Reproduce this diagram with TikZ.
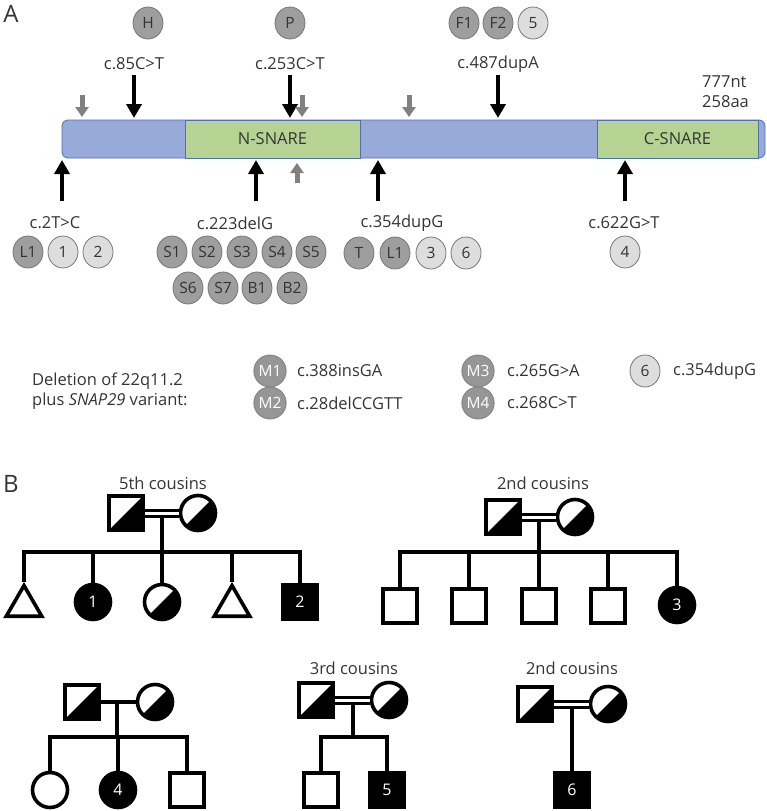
\documentclass[tikz,border=0pt]{standalone}
\usepackage{fontspec}
\setmainfont{Open Sans}
\usetikzlibrary{arrows.meta}
\usetikzlibrary{shapes.geometric}
\usetikzlibrary{positioning}
\definecolor{pblue}{RGB}{151,170,216}
\definecolor{pgreen}{RGB}{183,211,148}
\definecolor{pedge}{RGB}{80,112,182}
\definecolor{dgray}{RGB}{158,158,158}
\definecolor{lgray}{RGB}{221,221,221}
\definecolor{cedge}{RGB}{118,118,118}
\definecolor{agray}{RGB}{128,128,128}
\definecolor{txt}{RGB}{52,52,52}
\tikzset{lbl/.style = {font=\fontsize{16.5}{20}\selectfont, text=txt, inner sep=0pt},
         pat/.style = {ellipse, minimum width=30pt, minimum height=32pt, inner sep=0pt,
                       fill=dgray, draw=cedge, line width=0.8pt,
                       font=\fontsize{15.5}{16}\selectfont, text=txt},
         rel/.style = {pat, fill=lgray},
         mpat/.style = {pat, fill=dgray!95!black, draw=dgray!80!black, text=white},
         dom/.style = {rectangle, draw=pedge, line width=0.8pt, minimum height=38pt,
                       inner sep=0pt, font=\fontsize{16.5}{20}\selectfont, text=txt},
         blk/.style = {line width=4pt, -{Triangle[length=14pt,width=15pt]}},
         gry/.style = {line width=5pt, draw=agray, -{Triangle[length=10pt,width=13pt]}},
         pl/.style = {line width=3.8pt},
         cons/.style = {double, double distance=3pt, line width=3pt},
         sq/.style = {draw, rectangle, minimum size=34pt, line width=3.6pt, inner sep=0pt,
                      fill=white, font=\fontsize{16}{16}\selectfont, text=white},
         ci/.style = {sq, circle, minimum size=35pt},
         tri/.style = {draw, regular polygon, regular polygon sides=3, minimum size=41pt,
                       line width=3.6pt, inner sep=0pt, fill=white},
         half/.style = {path picture={\fill[black] (path picture bounding box.south west)
                        -- (path picture bounding box.north east)
                        -- (path picture bounding box.south east) -- cycle;}},
         aff/.style = {fill=black},
         kin/.style = {lbl}}

\begin{document}
\begin{tikzpicture}[x=1pt, y=-1pt]
  \useasboundingbox (0,0) rectangle (766,811);

  \node[lbl, font=\fontsize{24}{24}\selectfont] (pa) at (11,14) {A};
  \node[lbl, font=\fontsize{24}{24}\selectfont] (pb) at (11,484) {B};

  \draw[draw=pedge, fill=pblue, line width=0.8pt, rounded corners=6pt] (62,120) rectangle (765,158);
  \node[dom, fill=pgreen, minimum width=175pt] (nsnare) at (272.5,139) {N-SNARE};
  \node[dom, fill=pgreen, minimum width=161pt] (csnare) at (677.5,139) {C-SNARE};
  \node[lbl, align=left, anchor=west] (len) at (702,92) {777nt\\258aa};

  \foreach \n/\x/\l in {85/134/c.85C>T, 253/290/c.253C>T, 487/498/c.487dupA} {
    \node[lbl] (l\n) at (\x,64) {\l};
    \coordinate (t\n) at (\x,118);
    \coordinate (u\n) at (\x,75);
    \draw[blk] (u\n) -- (t\n);
  }
  \foreach \n/\x in {2/62, 223/256, 354/378, 622/625} {
    \coordinate (s\n) at (\x,201);
    \coordinate (t\n) at (\x,160);
    \draw[blk] (s\n) -- (t\n);
  }
  \node[lbl] (l2) at (55,223) {c.2T>C};
  \node[lbl] (l223) at (235,223) {c.223delG};
  \node[lbl] (l354) at (402,223) {c.354dupG};
  \node[lbl] (l622) at (624,223) {c.622G>T};

  \foreach \n/\x in {a/82, b/302, c/409} {
    \coordinate (gs\n) at (\x,95);
    \coordinate (gt\n) at (\x,117);
    \draw[gry] (gs\n) -- (gt\n);
  }
  \coordinate (gsd) at (297,183);
  \coordinate (gtd) at (297,163);
  \draw[gry] (gsd) -- (gtd);

  \node[pat] (pH) at (148,23) {H};
  \node[pat] (pP) at (290,23) {P};
  \node[pat] (pF1) at (464,23) {F1};
  \node[pat] (pF2) at (498,23) {F2};
  \node[rel] (p5) at (533,23) {5};

  \node[pat] (aL1) at (28,252) {L1};
  \node[rel] (a1) at (63,252) {1};
  \node[rel] (a2) at (98,252) {2};
  \foreach \t/\x in {S1/172, S2/207, S3/242, S4/277, S5/311}
    \node[pat] (b\t) at (\x,252) {\t};
  \foreach \t/\x in {S6/188, S7/223, B1/257, B2/292}
    \node[pat] (b\t) at (\x,288) {\t};
  \node[pat] (cT) at (359,253) {T};
  \node[pat] (cL1) at (395,253) {L1};
  \node[rel] (c3) at (431,253) {3};
  \node[rel] (c6) at (466,253) {6};
  \node[rel] (d4) at (625,252) {4};

  \node[lbl, align=left, anchor=west] (del) at (32,391) {Deletion of 22q11.2\\plus \textit{SNAP29} variant:};
  \node[mpat] (m1) at (270,371) {M1};
  \node[mpat] (m2) at (270,403) {M2};
  \node[mpat] (m3) at (478,371) {M3};
  \node[mpat] (m4) at (478,403) {M4};
  \node[rel] (m6) at (645,371) {6};
  \node[lbl, anchor=west] (v1) at (297,371) {c.388insGA};
  \node[lbl, anchor=west] (v2) at (297,403) {c.28delCCGTT};
  \node[lbl, anchor=west] (v3) at (507,371) {c.265G>A};
  \node[lbl, anchor=west] (v4) at (507,403) {c.268C>T};
  \node[lbl, anchor=west] (v6) at (673,371) {c.354dupG};

  % 5th cousins
  \node[kin] (k1) at (163,483) {5th cousins};
  \node[sq, half] (f1) at (126,513) {};
  \node[ci, half] (w1) at (198,513) {};
  \coordinate (d1) at (162,552);
  \node[tri] (e1) at (24,606) {};
  \node[ci, aff] (e2) at (93,602) {1};
  \node[ci, half] (e3) at (162,602) {};
  \node[tri] (e4) at (232,606) {};
  \node[sq, aff] (e5) at (300,602) {2};
  \draw[pl] (d1 |- f1) -- (d1);
  \draw[cons] (f1) -- (w1);
  \draw[pl, line cap=rect] (e1 |- d1) -- (e5 |- d1);
  \foreach \c in {e1,e2,e3,e4,e5}
    \draw[pl] (\c |- d1) -- (\c.north);

  % 2nd cousins
  \node[kin] (k2) at (543,483) {2nd cousins};
  \node[sq, half] (f2) at (503,517) {};
  \node[ci, half] (w2) at (575,517) {};
  \coordinate (d2) at (539,552);
  \node[sq] (g1) at (400,606) {};
  \node[sq] (g2) at (469,606) {};
  \node[sq] (g3) at (539,606) {};
  \node[sq] (g4) at (608,606) {};
  \node[ci, aff] (g5) at (677,605) {3};
  \draw[pl] (d2 |- f2) -- (d2);
  \draw[cons] (f2) -- (w2);
  \draw[pl, line cap=rect] (g1 |- d2) -- (g5 |- d2);
  \foreach \c in {g1,g2,g3,g4,g5}
    \draw[pl] (\c |- d2) -- (\c.north);

  % unrelated
  \node[sq, half] (f3) at (82,702) {};
  \node[ci, half] (w3) at (155,702) {};
  \coordinate (d3) at (117,737);
  \node[ci] (h1) at (50,790) {};
  \node[ci, aff] (h2) at (118,790) {4};
  \node[sq] (h3) at (187,790) {};
  \draw[pl] (d3 |- f3) -- (d3);
  \draw[pl] (f3) -- (w3);
  \draw[pl, line cap=rect] (h1 |- d3) -- (h3 |- d3);
  \foreach \c in {h1,h2,h3}
    \draw[pl] (\c |- d3) -- (\c.north);

  % 3rd cousins
  \node[kin] (k4) at (354,668) {3rd cousins};
  \node[sq, half] (f4) at (316,700) {};
  \node[ci, half] (w4) at (389,700) {};
  \coordinate (d4) at (353,737);
  \node[sq] (i1) at (321,790) {};
  \node[sq, aff] (i2) at (387,790) {5};
  \draw[pl] (d4 |- f4) -- (d4);
  \draw[cons] (f4) -- (w4);
  \draw[pl, line cap=rect] (i1 |- d4) -- (i2 |- d4);
  \foreach \c in {i1,i2}
    \draw[pl] (\c |- d4) -- (\c.north);

  % 2nd cousins
  \node[kin] (k5) at (572,668) {2nd cousins};
  \node[sq, half] (f5) at (535,704) {};
  \node[ci, half] (w5) at (608,704) {};
  \node[sq, aff] (j1) at (572,790) {6};
  \draw[pl] (j1 |- f5) -- (j1.north);
  \draw[cons] (f5) -- (w5);
\end{tikzpicture}
\end{document}
